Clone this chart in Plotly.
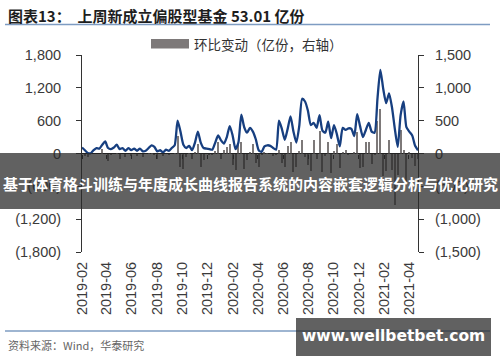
import plotly.graph_objects as go
import pandas as pd

# ---------------- data ----------------
week_start = "2019-02-01"
n_weeks = 117
new_fund = [110, 60, 10, 5, 60, 100, 90, 160, 220, 100,
            80, 110, 160, 80, 100, 50, 100, 60, 90, 50,
            90, 40, 50, 100, 150, 120, 40, 60, 20, 70,
            50, 100, 150, 600, 400, 160, 100, 140, 60, 200,
            400, 200, 100, 90, 80, 70, 200, 330, 240, 180,
            300, 500, 330, 80, 200, 710, 480, 380, 470, 400,
            260, 60, 30, 130, 150, 140, 100, 70, 600, 450,
            250, 450, 680, 400, 200, 500, 1000, 950, 780, 520,
            560, 470, 700, 420, 380, 580, 280, 520, 350, 130,
            470, 430, 460, 450, 320, 720, 500, 300, 430, 560,
            400, 380, 1000, 1530, 1180, 920, 1100, 850, 450, 120,
            700, 950, 480, 400, 330, 140, 60]
wow_change = [0, -40, -60, 0, 0, 0, -10, 70, 0, -120,
              -20, 0, 10, -80, 0, -50, 0, -40, 0, -40,
              0, -50, 0, 10, 10, -30, -80, 0, -40, 0,
              -20, 0, 10, 260, -200, -240, -50, 10, -80, 30,
              140, -200, -100, -10, -20, -20, 40, 170, -90, 60,
              100, 140, -170, -250, 140, 180, -230, -100, 30, 140,
              -140, -200, -30, 30, 10, -10, -40, -30, 60, -150,
              -200, 120, 180, -280, -200, 40, 210, -50, -170, -260,
              200, -90, 350, -280, -40, 180, -300, 40, 140, -220,
              30, 60, -20, -10, 30, 330, -220, -200, 180, 180,
              -160, -20, 500, 680, -350, -260, 210, -250, -790, -330,
              360, 50, -470, 30, -70, -190, -80]
x_tick_labels = ["2019-02", "2019-04", "2019-06", "2019-08", "2019-10", "2019-12",
                 "2020-02", "2020-04", "2020-06", "2020-08", "2020-10", "2020-12",
                 "2021-02", "2021-04"]
left_ticks = [-1800, -1200, -600, 0, 600, 1200, 1800]
left_text = ["(1,800)", "(1,200)", "(600)", "0", "600", "1,200", "1,800"]
right_ticks = [-1500, -1000, -500, 0, 500, 1000, 1500]
right_text = ["(1,500)", "(1,000)", "(500)", "0", "500", "1,000", "1,500"]

title_text = "图表13：  上周新成立偏股型基金 53.01 亿份"
legend_text = "环比变动（亿份，右轴）"
source_text = "资料来源：Wind，华泰研究"
banner_text = "基于体育格斗训练与年度成长曲线报告系统的内容嵌套逻辑分析与优化研究"
watermark_text = "www.wellbetbet.com"

dates = pd.date_range(week_start, periods=n_weeks, freq="7D")
tick_dates = [pd.Timestamp(t + "-01") for t in x_tick_labels]

# ---------------- layout helpers ----------------
W, H = 500, 362
L, R, T, B = 82, 418, 55, 252


def px(x):
    return (x - L) / (R - L)


def py(y):
    return (B - y) / (B - T)


SANS = "Arial, Liberation Sans, sans-serif"
CJK = "Noto Sans CJK SC, sans-serif"
AX_COL = "#3a3a3a"
BAR_COL = "#7d7979"
LINE_COL = "#173f80"
RULE_COL = "#7e9cc2"

fig = go.Figure()

fig.add_trace(go.Bar(
    x=dates, y=wow_change, xaxis="x", yaxis="y",
    marker=dict(color=BAR_COL, line=dict(width=0)),
    width=4.8 * 86400000, showlegend=False, hoverinfo="skip",
))
fig.add_trace(go.Scatter(
    x=dates, y=new_fund, xaxis="x2", yaxis="y2", mode="lines",
    line=dict(color=LINE_COL, width=2.3, shape="spline", smoothing=0.6),
    showlegend=False, hoverinfo="skip",
))

x_range = [dates[0], dates[-1]]

fig.update_layout(
    width=W, height=H,
    margin=dict(l=L, r=W - R, t=T, b=H - B, pad=0),
    paper_bgcolor="white", plot_bgcolor="white",
    bargap=0, barmode="overlay", hovermode=False,
    xaxis=dict(
        type="date", range=x_range, tickvals=tick_dates, ticktext=x_tick_labels,
        tickangle=-90, showgrid=False, zeroline=False, showline=False, ticks="",
        tickfont=dict(family=SANS, size=14.5, color=AX_COL), anchor="y",
        ticklabelstandoff=6,
    ),
    xaxis2=dict(
        type="date", matches="x", overlaying="x", anchor="free", position=0.5,
        tickvals=tick_dates, showticklabels=False, ticks="outside", ticklen=4,
        tickcolor="#222", tickwidth=1, showgrid=False, zeroline=False, showline=False,
    ),
    yaxis=dict(
        range=[-1500, 1500], tickvals=right_ticks, ticktext=right_text, side="right",
        anchor="x", showgrid=False, zeroline=True, zerolinecolor="#111", zerolinewidth=1.5,
        showline=True, linecolor="#333", linewidth=1, ticks="outside", ticklen=5,
        tickcolor="#333", tickfont=dict(family=SANS, size=14.5, color=AX_COL),
        ticklabelstandoff=8,
    ),
    yaxis2=dict(
        range=[-1800, 1800], tickvals=left_ticks, ticktext=left_text, side="left",
        overlaying="y", anchor="x2", showgrid=False, zeroline=False,
        showline=True, linecolor="#333", linewidth=1, ticks="outside", ticklen=5,
        tickcolor="#333", tickfont=dict(family=SANS, size=14.5, color=AX_COL),
        ticklabelstandoff=12,
    ),
)

shapes = [
    # title rule
    dict(type="line", xref="paper", yref="paper", x0=px(5), x1=px(490), y0=py(24.5), y1=py(24.5),
         line=dict(color=RULE_COL, width=1.6)),
    # source rule
    dict(type="line", xref="paper", yref="paper", x0=px(5), x1=px(490), y0=py(331), y1=py(331),
         line=dict(color=RULE_COL, width=1.6)),
    # legend swatch
    dict(type="rect", xref="paper", yref="paper", x0=px(151), x1=px(189), y0=py(48.5), y1=py(39),
         fillcolor=BAR_COL, line=dict(width=0)),
    # banner overlay
    dict(type="rect", xref="paper", yref="paper", x0=px(0), x1=px(500), y0=py(209), y1=py(153),
         fillcolor="rgba(42,42,42,0.74)", line=dict(width=0), layer="above"),
    # watermark box
    dict(type="rect", xref="paper", yref="paper", x0=px(296), x1=px(491), y0=py(356), y1=py(318),
         fillcolor="rgba(42,42,42,0.74)", line=dict(width=0), layer="above"),
]
fig.update_layout(shapes=shapes)

annotations = [
    dict(text=title_text, x=px(6), y=py(15), xref="paper", yref="paper", xanchor="left",
         yanchor="middle", showarrow=False,
         font=dict(family=CJK, size=15, color="#1e1e1e", weight="bold")),
    dict(text=legend_text, x=px(192), y=py(43.5), xref="paper", yref="paper", xanchor="left",
         yanchor="middle", showarrow=False, font=dict(family=CJK, size=13.5, color="#333")),
    dict(text=source_text, x=px(6), y=py(345), xref="paper", yref="paper", xanchor="left",
         yanchor="middle", showarrow=False, font=dict(family=CJK, size=11, color="#666")),
    dict(text=banner_text, x=px(250), y=py(183), xref="paper", yref="paper", xanchor="center",
         yanchor="middle", showarrow=False,
         font=dict(family=CJK, size=15, color="white", weight="bold")),
    dict(text=watermark_text, x=px(393), y=py(336), xref="paper", yref="paper", xanchor="center",
         yanchor="middle", showarrow=False,
         font=dict(family="DejaVu Sans, sans-serif", size=15.5, color="white", weight="bold")),
]
fig.update_layout(annotations=annotations)

fig.write_html(
    "out.html",
    config={"displayModeBar": False, "staticPlot": True},
    post_script="document.body.style.margin='0';document.body.style.padding='0';"
                "document.body.style.overflow='hidden';",
)
